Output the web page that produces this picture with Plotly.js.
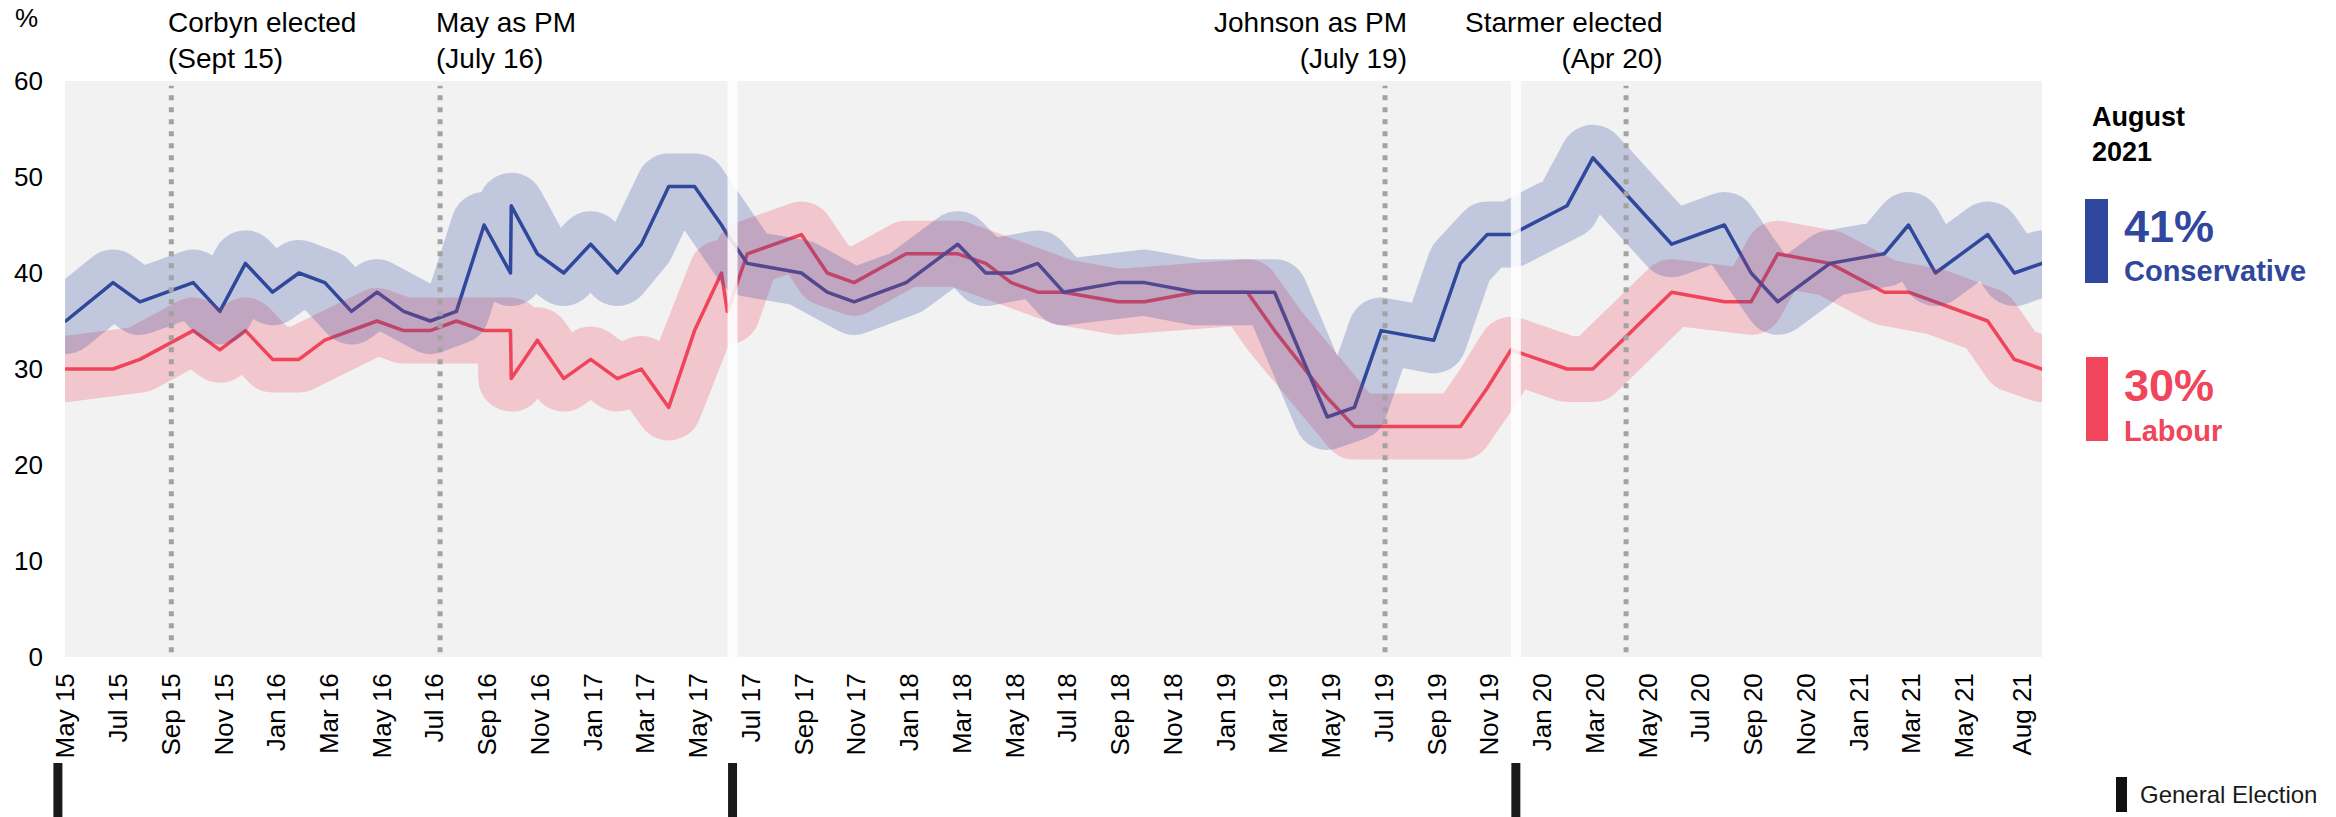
<!DOCTYPE html>
<html>
<head>
<meta charset="utf-8">
<script src="https://cdn.plot.ly/plotly-3.0.1.min.js"></script>
<style>
html,body{margin:0;padding:0;background:#fff;}
#chart{width:2336px;height:817px;}
.js-plotly-plot .scatterlayer .js-line{stroke-linejoin:round;stroke-linecap:round;}
</style>
</head>
<body>
<div id="chart"></div>
<script>
// Months since May 2015 (poll positions)
const pollMonth = [0, 1.79, 2.81, 4.83, 5.84, 6.81, 7.84, 8.84, 9.82, 10.83, 11.80, 12.81, 13.82, 14.81, 15.86, 16.86, 16.89, 17.88, 18.88, 19.90, 20.91, 21.82, 22.86, 23.84, 24.86, 25.08, 25.84, 27.89, 28.87, 29.89, 31.86, 33.82, 34.88, 35.85, 36.85, 37.83, 39.89, 40.90, 42.86, 44.80, 45.83, 47.83, 48.86, 49.87, 51.87, 52.88, 53.89, 54.80, 56.92, 57.90, 60.89, 62.89, 63.90, 64.91, 66.89, 68.95, 69.87, 70.89, 72.87, 73.88, 74.93];
const conservative = [35, 39, 37, 39, 36, 41, 38, 40, 39, 36, 38, 36, 35, 36, 45, 40, 47, 42, 40, 43, 40, 43, 49, 49, 45, 44, 41, 40, 38, 37, 39, 43, 40, 40, 41, 38, 39, 39, 38, 38, 38, 25, 26, 34, 33, 41, 44, 44, 47, 52, 43, 45, 40, 37, 41, 42, 45, 40, 44, 40, 41];
const labour = [30, 30, 31, 34, 32, 34, 31, 31, 33, 34, 35, 34, 34, 35, 34, 34, 29, 33, 29, 31, 29, 30, 26, 34, 40, 36, 42, 44, 40, 39, 42, 42, 41, 39, 38, 38, 37, 37, 38, 38, 34, 27, 24, 24, 24, 24, 28, 32, 30, 30, 38, 37, 37, 42, 41, 38, 38, 37, 35, 31, 30];

const tickMonths = [0, 2, 4, 6, 8, 10, 12, 14, 16, 18, 20, 22, 24, 26, 28, 30, 32, 34, 36, 38, 40, 42, 44, 46, 48, 50, 52, 54, 56, 58, 60, 62, 64, 66, 68, 70, 72, 74.2];
const tickLabels = ['May 15','Jul 15','Sep 15','Nov 15','Jan 16','Mar 16','May 16','Jul 16','Sep 16','Nov 16','Jan 17','Mar 17','May 17','Jul 17','Sep 17','Nov 17','Jan 18','Mar 18','May 18','Jul 18','Sep 18','Nov 18','Jan 19','Mar 19','May 19','Jul 19','Sep 19','Nov 19','Jan 20','Mar 20','May 20','Jul 20','Sep 20','Nov 20','Jan 21','Mar 21','May 21','Aug 21'];

const eventMonths = [4.0, 14.19, 50.02, 59.16];
const eventLabels = ['Corbyn elected<br>(Sept 15)', 'May as PM<br>(July 16)', 'Johnson as PM<br>(July 19)', 'Starmer elected<br>(Apr 20)'];
const electionMonths = [-0.3, 25.28, 54.98];

const CON = '#2F489D', LAB = '#F0455A';
const CON_BAND = 'rgba(47,72,157,0.25)', LAB_BAND = 'rgba(240,69,90,0.25)';
const FONT = 'Liberation Sans, Arial, Helvetica, sans-serif';

// pixel helpers for text placement (plot area: left 50, top 81, 1992 x 736)
const PL = 50, PT = 81, PW = 1992, PH = 736;
const px = x => (x - PL) / PW;
const py = y => (PT + PH - y) / PH;

const geX = [], geY = [];
electionMonths.forEach(g => { geX.push(g, g, null); geY.push(0, 1, null); });

const traces = [
  {x: pollMonth, y: labour, mode: 'lines', line: {color: LAB, width: 3.5}, hoverinfo: 'skip'},
  {x: pollMonth, y: conservative, mode: 'lines', line: {color: CON, width: 3.5}, hoverinfo: 'skip'},
  {x: pollMonth, y: labour, mode: 'lines', line: {color: LAB_BAND, width: 66}, hoverinfo: 'skip'},
  {x: pollMonth, y: conservative, mode: 'lines', line: {color: CON_BAND, width: 66}, hoverinfo: 'skip'},
  {x: geX, y: geY, xaxis: 'x', yaxis: 'y2', mode: 'lines', line: {color: '#1a1a1a', width: 9}, hoverinfo: 'skip'}
];

const shapes = [
  {type: 'rect', xref: 'x', yref: 'y', x0: -0.03, x1: 74.93, y0: 0, y1: 60, fillcolor: '#F2F2F2', line: {width: 0}, layer: 'below'},
  {type: 'rect', xref: 'x', yref: 'y', x0: -0.6, x1: -0.03, y0: 0, y1: 60, fillcolor: '#FFFFFF', line: {width: 0}, layer: 'above'}
];
electionMonths.forEach(g => shapes.push({type: 'line', xref: 'x', yref: 'y', x0: g, x1: g, y0: 0, y1: 60, line: {color: 'rgba(255,255,255,0.85)', width: 10}, layer: 'above'}));
eventMonths.forEach(e => shapes.push({type: 'line', xref: 'x', yref: 'y', x0: e, x1: e, y0: 0.5, y1: 59.5, line: {color: '#A3A3A3', width: 5, dash: '5px,7px'}, layer: 'above'}));
// legend bars
shapes.push({type: 'rect', xref: 'paper', yref: 'paper', x0: px(2085), x1: px(2108), y0: py(283), y1: py(199), fillcolor: CON, line: {width: 0}});
shapes.push({type: 'rect', xref: 'paper', yref: 'paper', x0: px(2086), x1: px(2108), y0: py(441), y1: py(357), fillcolor: LAB, line: {width: 0}});
shapes.push({type: 'rect', xref: 'paper', yref: 'paper', x0: px(2116), x1: px(2127), y0: py(812), y1: py(777), fillcolor: '#111', line: {width: 0}});

const evAlign = ['left', 'left', 'right', 'right'];
const evShift = [-5, -6, 24, 39];
const annotations = [
  {xref: 'paper', yref: 'paper', x: px(13), y: py(1), xanchor: 'left', yanchor: 'top', text: '%', showarrow: false, font: {size: 26, color: '#000'}}
];
eventMonths.forEach((e, i) => annotations.push({
  xref: 'x', yref: 'paper', x: e, y: py(5), xanchor: evAlign[i], yanchor: 'top', align: evAlign[i],
  xshift: evShift[i], text: eventLabels[i], showarrow: false, font: {size: 28, color: '#000'}
}));
const conLast = conservative[conservative.length - 1];
const labLast = labour[labour.length - 1];
annotations.push(
  {xref: 'paper', yref: 'paper', x: px(2090), y: py(100), xanchor: 'left', yanchor: 'top', align: 'left', text: '<b>August</b><br><b>2021</b>', showarrow: false, font: {size: 27, color: '#000'}},
  {xref: 'paper', yref: 'paper', x: px(2122), y: py(199.5), xanchor: 'left', yanchor: 'top', text: '<b>' + conLast + '%</b>', showarrow: false, font: {size: 45, color: CON}},
  {xref: 'paper', yref: 'paper', x: px(2122), y: py(252.5), xanchor: 'left', yanchor: 'top', text: '<b>Conservative</b>', showarrow: false, font: {size: 29, color: CON}},
  {xref: 'paper', yref: 'paper', x: px(2122), y: py(357.5), xanchor: 'left', yanchor: 'top', text: '<b>' + labLast + '%</b>', showarrow: false, font: {size: 45, color: LAB}},
  {xref: 'paper', yref: 'paper', x: px(2122), y: py(412.5), xanchor: 'left', yanchor: 'top', text: '<b>Labour</b>', showarrow: false, font: {size: 29, color: LAB}},
  {xref: 'paper', yref: 'paper', x: px(2138), y: py(779), xanchor: 'left', yanchor: 'top', text: 'General Election', showarrow: false, font: {size: 24, color: '#1a1a1a'}}
);

const layout = {
  width: 2336, height: 817,
  margin: {l: PL, r: 2336 - PL - PW, t: PT, b: 0, pad: 0},
  paper_bgcolor: '#FFFFFF', plot_bgcolor: 'rgba(0,0,0,0)',
  showlegend: false,
  font: {family: FONT, color: '#000', size: 26},
  xaxis: {
    range: [-0.6, 74.93], domain: [0, 1], anchor: 'y',
    tickmode: 'array', tickvals: tickMonths, ticktext: tickLabels, tickangle: -90,
    showgrid: false, zeroline: false, showline: false, ticks: '',
    ticklabelstandoff: 10, tickfont: {size: 26, color: '#000'}
  },
  yaxis: {
    domain: [160 / 736, 1], range: [0, 60], tickmode: 'linear', tick0: 0, dtick: 10,
    showgrid: false, zeroline: false, showline: false, ticks: '',
    ticklabelstandoff: 6, tickfont: {size: 26, color: '#000'}
  },
  yaxis2: {domain: [0, 54 / 736], range: [0, 1], visible: false, anchor: 'x', fixedrange: true},
  shapes: shapes,
  annotations: annotations
};

Plotly.newPlot('chart', traces, layout, {staticPlot: true, displayModeBar: false});
</script>
</body>
</html>
